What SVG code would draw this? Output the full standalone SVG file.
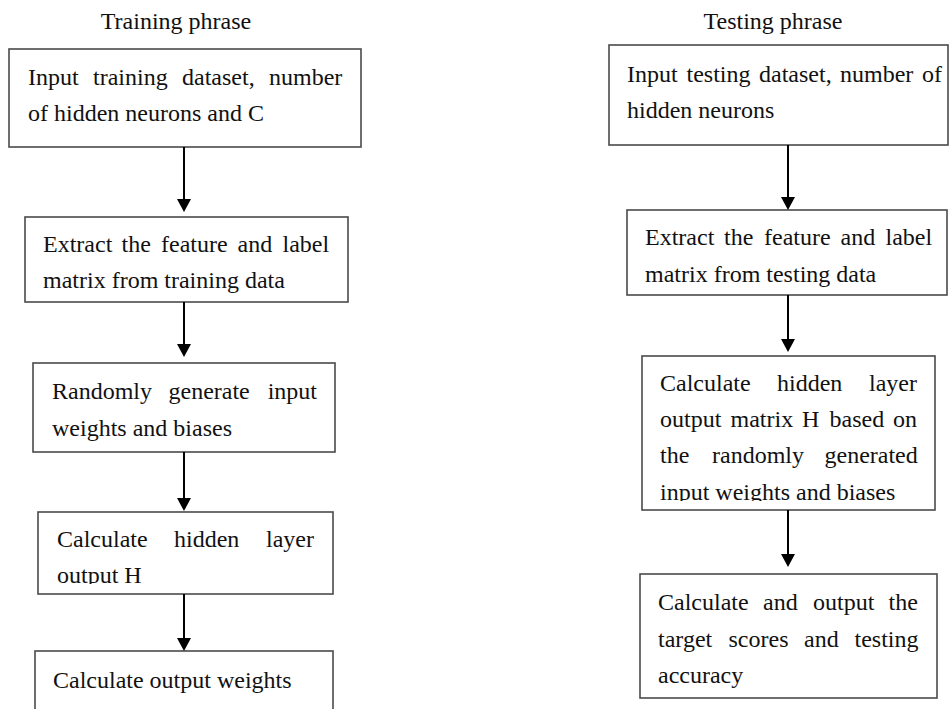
<svg xmlns="http://www.w3.org/2000/svg" width="950" height="709" viewBox="0 0 950 709">
  <style>
    text { font-family: "Liberation Serif", "Times New Roman", serif; font-size: 24px; fill: #111; }
    .box { fill: #fff; stroke: #4a4a4a; stroke-width: 1.6; }
    .arrow { stroke: #000; stroke-width: 2; fill: none; marker-end: url(#head); }
  </style>
  <defs>
    <marker id="head" markerUnits="userSpaceOnUse" markerWidth="14" markerHeight="14" viewBox="0 0 14 14" refX="9" refY="7" orient="auto">
      <path d="M0,0 L13,7 L0,14 z" fill="#000"/>
    </marker>
    <clipPath id="clipOutputH"><rect x="38" y="512" width="295" height="72"/></clipPath>
    <clipPath id="clipInputWeights"><rect x="642" y="356" width="293" height="145"/></clipPath>
  </defs>
  <rect width="950" height="709" fill="#fff"/>

  <!-- column headings -->
  <text x="176" y="29" text-anchor="middle">Training phrase</text>
  <text x="773" y="29" text-anchor="middle">Testing phrase</text>

  <!-- training column -->
  <g id="train-input">
    <rect class="box" x="9" y="49" width="352" height="98"/>
    <text y="85"><tspan x="28">Input</tspan><tspan x="93">training</tspan><tspan x="182">dataset,</tspan><tspan x="269">number</tspan></text>
    <text x="28" y="121">of hidden neurons and C</text>
  </g>
  <g id="train-extract">
    <rect class="box" x="25" y="217" width="323" height="85"/>
    <text y="252"><tspan x="43">Extract</tspan><tspan x="121.5">the</tspan><tspan x="161">feature</tspan><tspan x="237.5">and</tspan><tspan x="282.5">label</tspan></text>
    <text x="43" y="288">matrix from training data</text>
  </g>
  <g id="train-random">
    <rect class="box" x="33" y="363" width="302" height="89"/>
    <text y="399"><tspan x="52">Randomly</tspan><tspan x="168.5">generate</tspan><tspan x="267.7">input</tspan></text>
    <text x="52" y="436">weights and biases</text>
  </g>
  <g id="train-hidden">
    <rect class="box" x="38" y="512" width="295" height="82"/>
    <text y="547"><tspan x="57">Calculate</tspan><tspan x="174">hidden</tspan><tspan x="266">layer</tspan></text>
    <text x="57" y="583" clip-path="url(#clipOutputH)">output H</text>
  </g>
  <g id="train-output">
    <rect class="box" x="35" y="651" width="298" height="70"/>
    <text x="53" y="688">Calculate output weights</text>
  </g>

  <!-- testing column -->
  <g id="test-input">
    <rect class="box" x="609" y="45" width="339" height="100"/>
    <text y="82"><tspan x="627">Input</tspan><tspan x="686.5">testing</tspan><tspan x="759">dataset,</tspan><tspan x="840">number</tspan><tspan x="922">of</tspan></text>
    <text x="627" y="118">hidden neurons</text>
  </g>
  <g id="test-extract">
    <rect class="box" x="627" y="210" width="320" height="85"/>
    <text y="245"><tspan x="645">Extract</tspan><tspan x="724">the</tspan><tspan x="764">feature</tspan><tspan x="840.5">and</tspan><tspan x="885.5">label</tspan></text>
    <text x="645" y="282">matrix from testing data</text>
  </g>
  <g id="test-hidden">
    <rect class="box" x="642" y="356" width="293" height="154"/>
    <text y="391"><tspan x="660">Calculate</tspan><tspan x="777">hidden</tspan><tspan x="869">layer</tspan></text>
    <text y="427"><tspan x="660">output</tspan><tspan x="730.5">matrix</tspan><tspan x="802">H</tspan><tspan x="829.5">based</tspan><tspan x="893">on</tspan></text>
    <text y="463"><tspan x="660">the</tspan><tspan x="712">randomly</tspan><tspan x="824.5">generated</tspan></text>
    <text x="660" y="500" clip-path="url(#clipInputWeights)">input weights and biases</text>
  </g>
  <g id="test-output">
    <rect class="box" x="640" y="574" width="297" height="124"/>
    <text y="610"><tspan x="658">Calculate</tspan><tspan x="763">and</tspan><tspan x="813">output</tspan><tspan x="888.5">the</tspan></text>
    <text y="647"><tspan x="658">target</tspan><tspan x="728.5">scores</tspan><tspan x="804">and</tspan><tspan x="854.5">testing</tspan></text>
    <text x="658" y="683">accuracy</text>
  </g>

  <!-- connectors -->
  <g id="connectors">
    <line class="arrow" x1="184" y1="147" x2="184" y2="208"/>
    <line class="arrow" x1="184" y1="302" x2="184" y2="353"/>
    <line class="arrow" x1="184" y1="452" x2="184" y2="507"/>
    <line class="arrow" x1="184" y1="594" x2="184" y2="647"/>
    <line class="arrow" x1="788" y1="145" x2="788" y2="206"/>
    <line class="arrow" x1="788" y1="295" x2="788" y2="348"/>
    <line class="arrow" x1="788" y1="510" x2="788" y2="563"/>
  </g>
</svg>
